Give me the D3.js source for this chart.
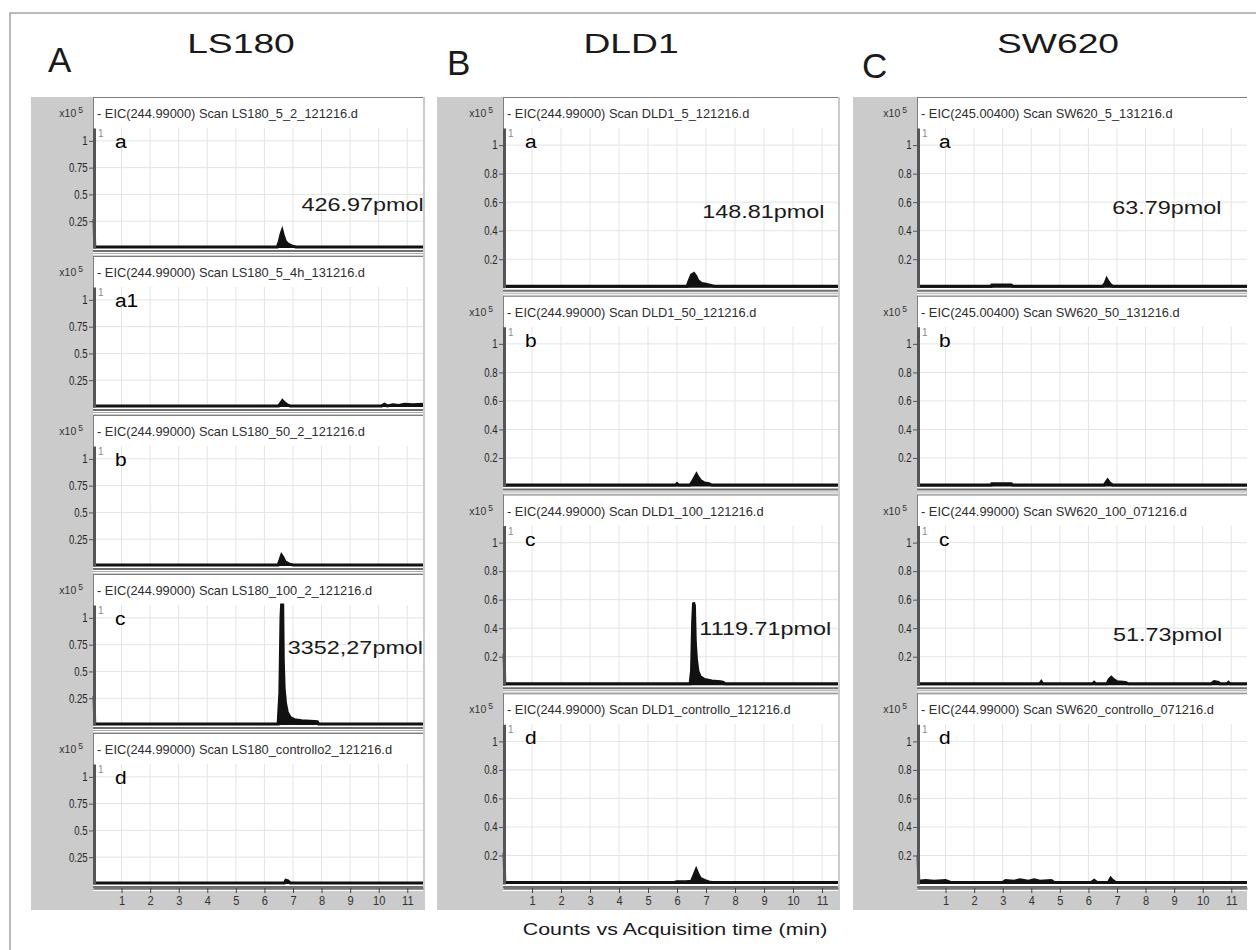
<!DOCTYPE html>
<html lang="en">
<head>
<meta charset="UTF-8">
<title>EIC chromatograms</title>
<script src="https://cdn.jsdelivr.net/npm/d3@7"></script>
<style>
  body { margin: 0; background: #fff; }
  text { font-family: "Liberation Sans", Arial, sans-serif; }
</style>
</head>
<body>
<div id="chart"></div>
<script>
const cellLines = ["LS180", "DLD1", "SW620"]
const panelLetters = ["A", "B", "C"]
const sampleLabels = [["a", "a1", "b", "c", "d"], ["a", "b", "c", "d"], ["a", "b", "c", "d"]]
const scanNames = [
  ["- EIC(244.99000) Scan LS180_5_2_121216.d",
   "- EIC(244.99000) Scan LS180_5_4h_131216.d",
   "- EIC(244.99000) Scan LS180_50_2_121216.d",
   "- EIC(244.99000) Scan LS180_100_2_121216.d",
   "- EIC(244.99000) Scan LS180_controllo2_121216.d"],
  ["- EIC(244.99000) Scan DLD1_5_121216.d",
   "- EIC(244.99000) Scan DLD1_50_121216.d",
   "- EIC(244.99000) Scan DLD1_100_121216.d",
   "- EIC(244.99000) Scan DLD1_controllo_121216.d"],
  ["- EIC(245.00400) Scan SW620_5_131216.d",
   "- EIC(245.00400) Scan SW620_50_131216.d",
   "- EIC(244.99000) Scan SW620_100_071216.d",
   "- EIC(244.99000) Scan SW620_controllo_071216.d"]
]
const yTickValues = [[0.25, 0.5, 0.75, 1], [0.2, 0.4, 0.6, 0.8, 1], [0.2, 0.4, 0.6, 0.8, 1]]
const xTickValues = [1, 2, 3, 4, 5, 6, 7, 8, 9, 10, 11]
const timeRange = [0, 11.55]
const countRange = [0, 1.12]

// [time (min), counts x10^5]
const tracesLS180 = [
  [[0, 0.27], [0.04, 0.27], [0.06, 0.01], [6.45, 0.01], [6.52, 0.06], [6.58, 0.13], [6.62, 0.16], [6.66, 0.12],
   [6.72, 0.07], [6.8, 0.04], [6.95, 0.02], [7.1, 0.01], [11.55, 0.01]],
  [[0, 0.01], [6.5, 0.01], [6.58, 0.04], [6.63, 0.06], [6.7, 0.04], [6.8, 0.02], [6.9, 0.01], [10.1, 0.01],
   [10.2, 0.025], [10.3, 0.01], [10.5, 0.02], [10.7, 0.015], [10.9, 0.025], [11.2, 0.02], [11.55, 0.025]],
  [[0, 0.01], [6.48, 0.01], [6.55, 0.06], [6.6, 0.1], [6.65, 0.08], [6.72, 0.04], [6.85, 0.02], [7.0, 0.01],
   [11.55, 0.01]],
  [[0, 0.27], [0.04, 0.27], [0.06, 0.01], [6.48, 0.01], [6.54, 0.3], [6.58, 1.0], [6.6, 1.15], [6.64, 1.15],
   [6.66, 0.6], [6.69, 0.34], [6.74, 0.2], [6.8, 0.12], [6.9, 0.07], [7.05, 0.05], [7.3, 0.04], [7.6, 0.035],
   [7.85, 0.03], [7.9, 0.01], [11.55, 0.01]],
  [[0, 0.01], [6.7, 0.01], [6.75, 0.035], [6.82, 0.03], [6.9, 0.01], [11.55, 0.01]]
]
const tracesDLD1 = [
  [[0, 0.01], [6.35, 0.01], [6.42, 0.05], [6.5, 0.09], [6.58, 0.1], [6.65, 0.08], [6.72, 0.05], [6.85, 0.03],
   [7.0, 0.025], [7.2, 0.015], [7.3, 0.01], [11.55, 0.01]],
  [[0, 0.01], [5.95, 0.01], [6.0, 0.02], [6.05, 0.01], [6.45, 0.01], [6.52, 0.03], [6.6, 0.06], [6.67, 0.085],
   [6.74, 0.06], [6.82, 0.04], [6.95, 0.025], [7.1, 0.02], [7.2, 0.01], [11.55, 0.01]],
  [[0, 0.22], [0.04, 0.22], [0.06, 0.01], [6.45, 0.01], [6.5, 0.1], [6.54, 0.45], [6.57, 0.58], [6.6, 0.56],
   [6.63, 0.3], [6.67, 0.18], [6.72, 0.1], [6.8, 0.06], [6.95, 0.04], [7.2, 0.03], [7.5, 0.025], [7.6, 0.02],
   [7.65, 0.01], [11.55, 0.01]],
  [[0, 0.22], [0.04, 0.22], [0.06, 0.01], [5.9, 0.01], [6.0, 0.015], [6.3, 0.015], [6.5, 0.02], [6.58, 0.06],
   [6.66, 0.1], [6.72, 0.07], [6.8, 0.04], [6.95, 0.025], [7.1, 0.015], [7.2, 0.01], [11.55, 0.01]]
]
const tracesSW620 = [
  [[0, 0.01], [2.6, 0.01], [2.62, 0.02], [3.3, 0.02], [3.35, 0.01], [6.5, 0.01], [6.58, 0.03], [6.64, 0.06],
   [6.7, 0.04], [6.78, 0.02], [6.85, 0.01], [11.55, 0.01]],
  [[0, 0.01], [2.6, 0.01], [2.62, 0.02], [3.3, 0.02], [3.35, 0.01], [6.55, 0.01], [6.62, 0.03], [6.67, 0.045],
   [6.74, 0.025], [6.85, 0.01], [11.55, 0.01]],
  [[0, 0.01], [4.3, 0.01], [4.35, 0.025], [4.4, 0.01], [6.15, 0.01], [6.2, 0.02], [6.25, 0.01], [6.65, 0.01],
   [6.72, 0.04], [6.8, 0.055], [6.88, 0.04], [7.0, 0.025], [7.3, 0.02], [7.4, 0.01], [10.3, 0.01], [10.4, 0.025],
   [10.55, 0.02], [10.6, 0.01], [10.85, 0.01], [10.9, 0.02], [10.95, 0.01], [11.55, 0.01]],
  [[0, 0.2], [0.04, 0.2], [0.06, 0.02], [0.3, 0.025], [0.6, 0.02], [1.0, 0.025], [1.2, 0.01], [3.0, 0.01],
   [3.1, 0.025], [3.4, 0.02], [3.6, 0.03], [3.9, 0.02], [4.1, 0.03], [4.3, 0.02], [4.7, 0.025], [4.8, 0.01],
   [6.1, 0.01], [6.2, 0.025], [6.3, 0.01], [6.7, 0.01], [6.78, 0.04], [6.85, 0.025], [6.95, 0.01], [11.55, 0.01]]
]
const traces = [tracesLS180, tracesDLD1, tracesSW620]

// quantified amounts: [panel, subplot, label, time, counts] (label anchored at time/counts)
const amounts = [
  [0, 0, "426.97pmol", 7.3, 0.35],
  [0, 3, "3352,27pmol", 6.82, 0.66],
  [1, 0, "148.81pmol", 6.87, 0.49],
  [1, 2, "1119.71pmol", 6.77, 0.35],
  [2, 0, "63.79pmol", 6.83, 0.52],
  [2, 2, "51.73pmol", 6.86, 0.31]
]
const axisTitle = "Counts vs Acquisition time (min)"

const width = 1256, height = 950
const frames = [
  {x0: 31, x1: 425, px0: 93, px1: 423, letterX: 48, letterY: 72, nameX: 241},
  {x0: 437, x1: 840, px0: 503, px1: 838, letterX: 447, letterY: 75, nameX: 631},
  {x0: 853, x1: 1247, px0: 917, px1: 1247, letterX: 862, letterY: 78, nameX: 1058}
]
const plotsTop = 97, plotsBottom = 892, grayBottom = 910

const svg = d3.select("#chart").append("svg")
    .attr("width", width)
    .attr("height", height)

const stretchText = (g, x, y, str, size, sx, anchor) => g.append("text")
    .attr("transform", `translate(${x},${y}) scale(${sx},1)`)
    .attr("font-size", size)
    .attr("text-anchor", anchor || "start")
    .text(str)

svg.append("rect")
    .attr("x", 10).attr("y", 13)
    .attr("width", width + 20).attr("height", height + 20)
    .attr("fill", "none").attr("stroke", "#a3a3a3").attr("stroke-width", 1.5)

frames.forEach((f, p) => {
    const g = svg.append("g")
    g.append("rect")
        .attr("x", f.x0).attr("y", plotsTop)
        .attr("width", f.x1 - f.x0).attr("height", grayBottom - plotsTop)
        .attr("fill", "#cbcbcb")
    stretchText(g, f.letterX, f.letterY, panelLetters[p], 35, 1, "start").attr("fill", "#1a1a1a")
    stretchText(g, f.nameX, 53, cellLines[p], 28, 1.33, "middle").attr("fill", "#1a1a1a")

    const series = traces[p]
    const n = series.length
    const period = (plotsBottom - plotsTop) / n
    const x = d3.scaleLinear().domain(timeRange).range([f.px0, f.px1])

    series.forEach((pts, i) => {
        const y0 = plotsTop + i * period
        const zero = y0 + period - 8
        const y = d3.scaleLinear().domain(countRange).range([zero, y0 + 31]).clamp(true)
        const sub = g.append("g")

        sub.append("rect")
            .attr("x", f.px0).attr("y", y0)
            .attr("width", f.px1 - f.px0).attr("height", period - 1)
            .attr("fill", "#fff")
        sub.append("line")
            .attr("x1", f.px0).attr("x2", f.px1)
            .attr("y1", y0 + 0.5).attr("y2", y0 + 0.5)
            .attr("stroke", "#7d7d7d")
        sub.append("line")
            .attr("x1", f.px0 + 0.5).attr("x2", f.px0 + 0.5)
            .attr("y1", y0).attr("y2", zero)
            .attr("stroke", "#7d7d7d")

        // grid
        sub.append("g").selectAll("line")
            .data(xTickValues)
            .join("line")
            .attr("x1", d => x(d)).attr("x2", d => x(d))
            .attr("y1", y(countRange[1])).attr("y2", zero)
            .attr("stroke", "#e4e4e4")
        sub.append("g").selectAll("line")
            .data(yTickValues[p])
            .join("line")
            .attr("x1", f.px0).attr("x2", f.px1)
            .attr("y1", d => y(d)).attr("y2", d => y(d))
            .attr("stroke", "#e4e4e4")

        // header
        const mult = sub.append("text")
            .attr("x", f.px0 - 10).attr("y", y0 + 20)
            .attr("font-size", 10.5).attr("fill", "#333")
            .attr("text-anchor", "end")
        mult.append("tspan").text("x10")
        mult.append("tspan").attr("dx", 2).attr("dy", -4).attr("font-size", 8.5).text("5")
        stretchText(sub, f.px0 + 4, y0 + 21, scanNames[p][i], 12, 1.07).attr("fill", "#2e2e2e")
        stretchText(sub, f.px0 + 5, y0 + 40, "1", 10, 1).attr("fill", "#8c8c8c")
        stretchText(sub, f.px0 + 22, y0 + 51, sampleLabels[p][i], 19, 1.1).attr("fill", "#000")

        // trace
        sub.append("path")
            .datum(pts)
            .attr("fill", "#111")
            .attr("d", d3.area().x(d => x(d[0])).y0(zero).y1(d => y(d[1])))
        sub.append("path")
            .datum(pts)
            .attr("fill", "none")
            .attr("stroke", "#111")
            .attr("stroke-width", 3)
            .attr("d", d3.line().x(d => x(d[0])).y(d => y(d[1])))

        // x frame below the baseline
        sub.append("line")
            .attr("x1", f.px0).attr("x2", f.px1)
            .attr("y1", zero + 3).attr("y2", zero + 3)
            .attr("stroke", "#6f6f6f").attr("stroke-width", 2)
        sub.append("line")
            .attr("x1", f.px0).attr("x2", f.px1)
            .attr("y1", zero + 5.5).attr("y2", zero + 5.5)
            .attr("stroke", "#a9a9a9").attr("stroke-width", 1)

        // y axis
        const yAxis = sub.append("g")
            .attr("transform", `translate(${f.px0 + 1},0)`)
            .call(d3.axisLeft(y).tickValues(yTickValues[p]).tickSize(5).tickSizeOuter(0)
                .tickPadding(3).tickFormat(d => String(d)))
        yAxis.select(".domain").attr("stroke", "#555").attr("stroke-width", 3)
        yAxis.selectAll(".tick line").attr("stroke", "#555")
        yAxis.selectAll(".tick text")
            .attr("font-size", 12).attr("fill", "#262626")
            .attr("font-family", "'Liberation Sans', Arial, sans-serif")
            .attr("transform", "scale(0.8,1)")

        amounts.filter(a => a[0] === p && a[1] === i).forEach(a => {
            stretchText(sub, x(a[3]), y(a[4]), a[2], 18, 1.3).attr("fill", "#1a1a1a")
        })

        if (i === n - 1) {
            const xAxis = sub.append("g")
                .attr("transform", `translate(0,${zero + 4})`)
                .call(d3.axisBottom(x).tickValues(xTickValues).tickSize(5).tickSizeOuter(0).tickPadding(3))
            xAxis.select(".domain").attr("stroke", "#777").attr("stroke-width", 2)
            xAxis.selectAll(".tick line").attr("stroke", "#444")
            xAxis.selectAll(".tick text")
                .attr("font-size", 13).attr("fill", "#333")
                .attr("font-family", "'Liberation Sans', Arial, sans-serif")
                .attr("transform", "scale(0.85,1)")
        }
    })
})

stretchText(svg, 675, 935, axisTitle, 17, 1.26, "middle").attr("fill", "#1a1a1a")
</script>
</body>
</html>
